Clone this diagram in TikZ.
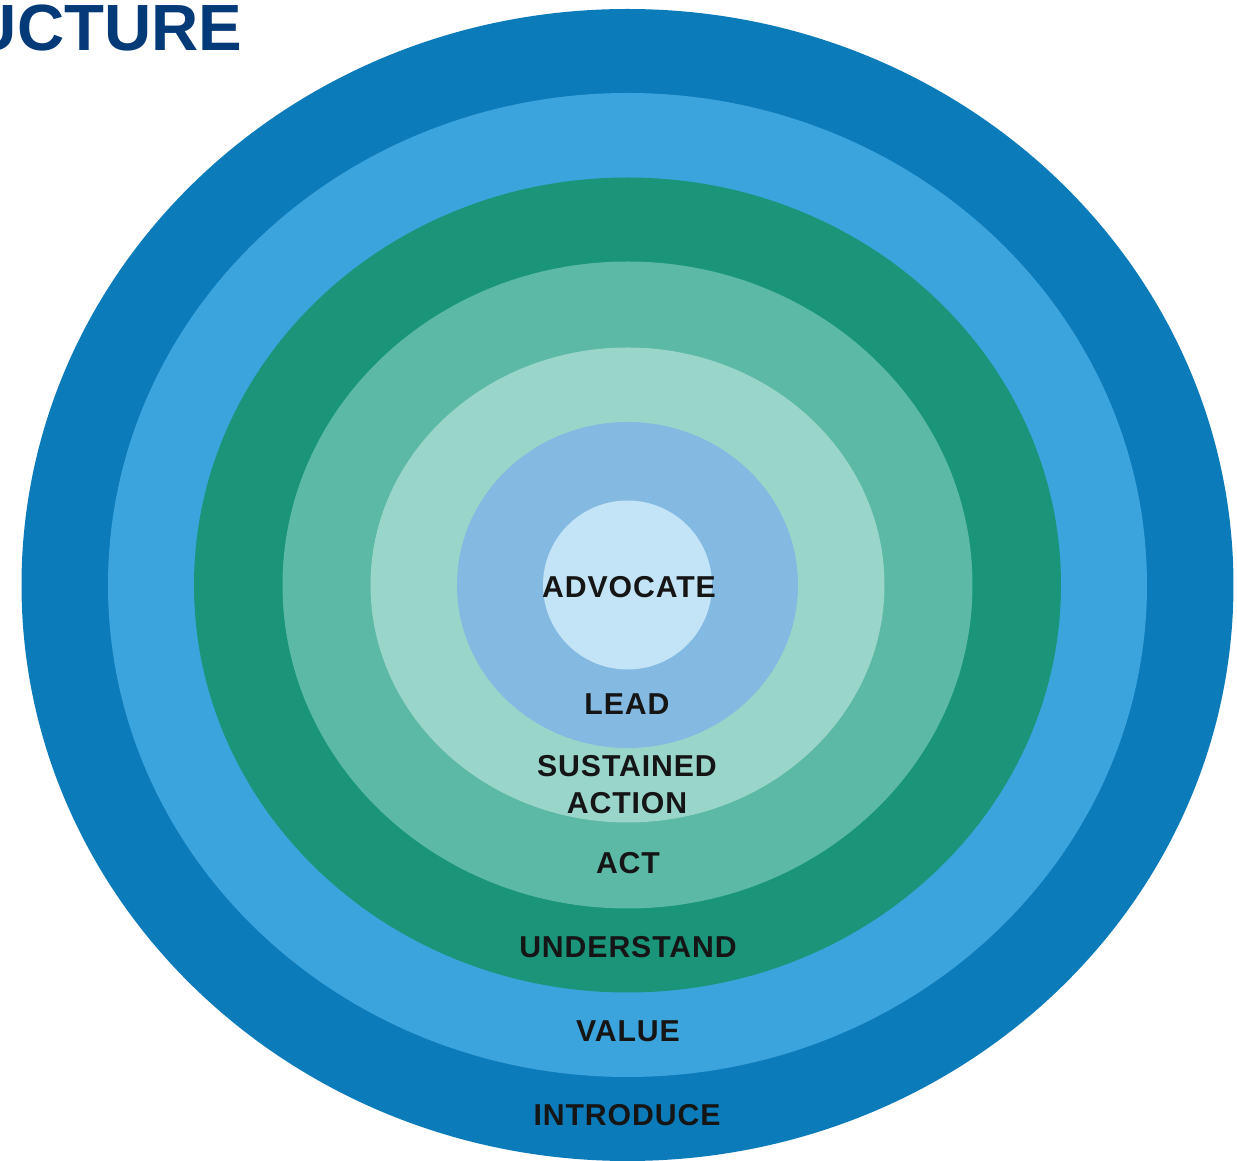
\documentclass[tikz,border=0pt]{standalone}
\usepackage{fontspec}
\setmainfont{Liberation Sans}
\newfontfamily\lblfont[LetterSpace=3]{Liberation Sans}
\definecolor{ringA}{HTML}{0C7BBA}
\definecolor{ringB}{HTML}{3BA4DD}
\definecolor{ringC}{HTML}{1A957A}
\definecolor{ringD}{HTML}{5BB9A5}
\definecolor{ringE}{HTML}{9AD5CA}
\definecolor{ringF}{HTML}{84B9E2}
\definecolor{ringG}{HTML}{C3E4F6}
\definecolor{titleblue}{HTML}{033A77}
\definecolor{lbltext}{HTML}{151515}
\tikzset{lbl/.style={inner sep=0pt, text=lbltext, font=\lblfont\fontsize{8.6}{10.5}\selectfont\bfseries, align=center}}

\begin{document}
\begin{tikzpicture}
\useasboundingbox (0,0) rectangle (12.37,-11.61);
\coordinate (o) at (6.275,-5.85);

\foreach \rx/\ry/\c in {6.06/5.76/ringA,5.195/4.92/ringB,4.335/4.075/ringC,3.45/3.235/ringD,2.57/2.375/ringE,1.705/1.63/ringF,0.845/0.845/ringG} \fill[\c] (o) ellipse (\rx cm and \ry cm);

\node[anchor=base east, inner sep=0pt, text=titleblue, font=\fontsize{18.6}{20}\selectfont\bfseries] (title) at (2.43,-0.51) {UCTURE};

\node[lbl] (advocate) at (6.29,-5.87) {ADVOCATE};
\node[lbl] (lead) at (6.27,-7.04) {LEAD};
\node[lbl] (sustained) at (6.27,-7.845) {SUSTAINED\\ACTION};
\node[lbl] (act) at (6.28,-8.63) {ACT};
\node[lbl] (understand) at (6.28,-9.47) {UNDERSTAND};
\node[lbl] (value) at (6.28,-10.31) {VALUE};
\node[lbl] (introduce) at (6.27,-11.15) {INTRODUCE};

\end{tikzpicture}
\end{document}
